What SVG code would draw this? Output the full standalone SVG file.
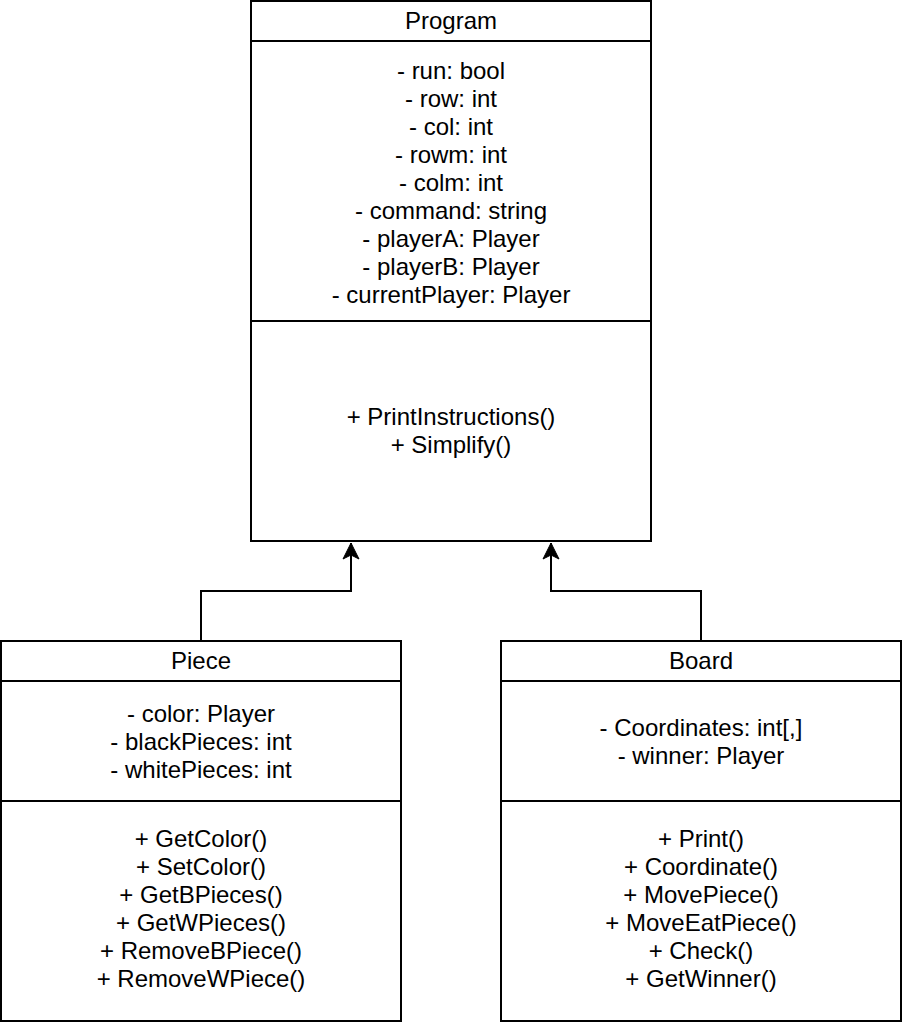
<svg xmlns="http://www.w3.org/2000/svg" width="902" height="1022" viewBox="0 0 902 1022">
<style>
.box{fill:#fff;stroke:#000;stroke-width:2}
.ln{stroke:#000;stroke-width:2;fill:none}
text{font-family:"Liberation Sans",Arial,sans-serif;font-size:24px;fill:#000;text-anchor:middle}
</style>
<defs>
<marker id="arr" markerUnits="userSpaceOnUse" markerWidth="20" markerHeight="20" viewBox="0 0 20 20" refX="18" refY="10" orient="auto">
<path d="M18,10 L2,2 L6,10 L2,18 Z" fill="#000" stroke="#000" stroke-width="1"/>
</marker>
</defs>
<rect width="902" height="1022" fill="#fff"/>
<g id="connectors">
<path class="ln" d="M201,641 V591 H351 V543" marker-end="url(#arr)"/>
<path class="ln" d="M701,641 V591 H551 V543" marker-end="url(#arr)"/>
</g>
<g id="program">
<rect class="box" x="251" y="1" width="400" height="540"/>
<line class="ln" x1="251" y1="41" x2="651" y2="41"/>
<line class="ln" x1="251" y1="321" x2="651" y2="321"/>
<text x="451" y="29">Program</text>
<text x="451" y="79">- run: bool</text>
<text x="451" y="107">- row: int</text>
<text x="451" y="135">- col: int</text>
<text x="451" y="163">- rowm: int</text>
<text x="451" y="191">- colm: int</text>
<text x="451" y="219">- command: string</text>
<text x="451" y="247">- playerA: Player</text>
<text x="451" y="275">- playerB: Player</text>
<text x="451" y="303">- currentPlayer: Player</text>
<text x="451" y="425">+ PrintInstructions()</text>
<text x="451" y="453">+ Simplify()</text>
</g>
<g id="piece">
<rect class="box" x="1" y="641" width="400" height="380"/>
<line class="ln" x1="1" y1="681" x2="401" y2="681"/>
<line class="ln" x1="1" y1="801" x2="401" y2="801"/>
<text x="201" y="669">Piece</text>
<text x="201" y="722">- color: Player</text>
<text x="201" y="750">- blackPieces: int</text>
<text x="201" y="778">- whitePieces: int</text>
<text x="201" y="847">+ GetColor()</text>
<text x="201" y="875">+ SetColor()</text>
<text x="201" y="903">+ GetBPieces()</text>
<text x="201" y="931">+ GetWPieces()</text>
<text x="201" y="959">+ RemoveBPiece()</text>
<text x="201" y="987">+ RemoveWPiece()</text>
</g>
<g id="board">
<rect class="box" x="501" y="641" width="400" height="380"/>
<line class="ln" x1="501" y1="681" x2="901" y2="681"/>
<line class="ln" x1="501" y1="801" x2="901" y2="801"/>
<text x="701" y="669">Board</text>
<text x="701" y="736">- Coordinates: int[,]</text>
<text x="701" y="764">- winner: Player</text>
<text x="701" y="847">+ Print()</text>
<text x="701" y="875">+ Coordinate()</text>
<text x="701" y="903">+ MovePiece()</text>
<text x="701" y="931">+ MoveEatPiece()</text>
<text x="701" y="959">+ Check()</text>
<text x="701" y="987">+ GetWinner()</text>
</g>
</svg>
